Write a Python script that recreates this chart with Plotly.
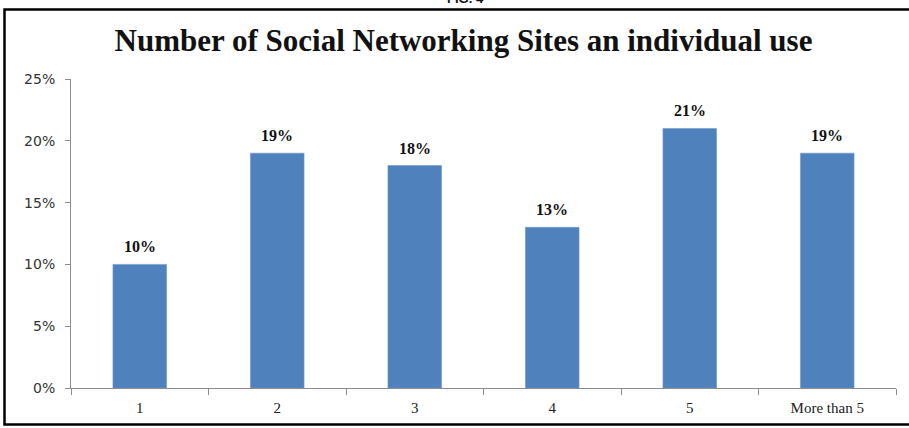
import plotly.graph_objects as go

categories = ["1", "2", "3", "4", "5", "More than 5"]
shares = [0.10, 0.19, 0.18, 0.13, 0.21, 0.19]
y_ticks = [0, 0.05, 0.10, 0.15, 0.20, 0.25]

L, R, T, B = 71, 13, 79, 40
W, H = 909, 428
pw, ph = W - L - R, H - T - B

def px_x(x):
    return (x - L) / pw

def px_y(y):
    return (H - B - y) / ph

fig = go.Figure()
fig.add_trace(go.Bar(
    x=categories, y=shares,
    marker=dict(color="#4F81BD", line=dict(color="#6F9AD0", width=0.6)),
    hoverinfo="x+y",
))

label_annotations = [
    dict(
        x=i, y=v, xref="x", yref="y", text=f"<b>{v:.0%}</b>",
        xanchor="center", yanchor="bottom", yshift=7, showarrow=False,
        font=dict(family="Liberation Serif", size=16, color="#111111"),
    )
    for i, v in enumerate(shares)
]

fig.update_layout(
    width=W, height=H,
    margin=dict(l=L, r=R, t=T, b=B),
    paper_bgcolor="white", plot_bgcolor="white",
    bargap=0.61,
    showlegend=False,
    title=dict(
        text="<b>Number of Social Networking Sites an individual use</b>",
        font=dict(family="Liberation Serif", size=31, color="#111111"),
        x=463.5 / W, xanchor="center", xref="container",
        y=1 - 40 / H, yanchor="middle", yref="container",
    ),
    xaxis=dict(
        type="category",
        showline=True, linecolor="#8c8c8c", linewidth=1,
        ticks="outside", tickson="boundaries", ticklen=6, tickcolor="#8c8c8c",
        ticklabelstandoff=6,
        tickfont=dict(family="Liberation Serif", size=15, color="#222222"),
        showgrid=False,
    ),
    yaxis=dict(
        range=[0, 0.25], tickvals=y_ticks, tickformat=".0%",
        showline=True, linecolor="#8c8c8c", linewidth=1,
        ticks="outside", ticklen=5, tickcolor="#8c8c8c",
        ticklabelstandoff=7,
        tickfont=dict(family="DejaVu Sans", size=14, color="#333333"),
        showgrid=False, zeroline=False,
    ),
    shapes=[dict(
        type="rect", xref="paper", yref="paper",
        x0=px_x(4.5), x1=px_x(915), y0=px_y(424.5), y1=px_y(9.5),
        line=dict(color="black", width=2.5), layer="below",
    )],
    annotations=label_annotations + [dict(
        text="<b>FIG. 4</b>", xref="paper", yref="paper",
        x=px_x(465), y=px_y(-1), xanchor="center", yanchor="middle",
        showarrow=False, font=dict(family="Liberation Sans", size=13, color="#111111"),
    )],
)

fig.write_html("out.html")
